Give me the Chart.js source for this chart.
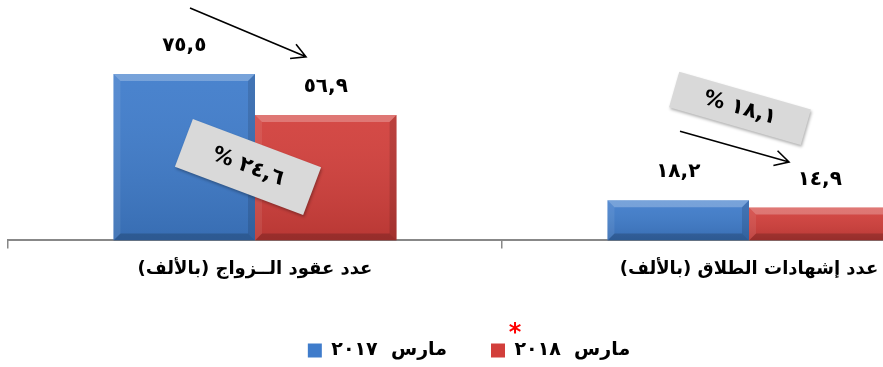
<!DOCTYPE html>
<html lang="ar">
<head>
<meta charset="utf-8">
<script src="https://cdn.jsdelivr.net/npm/chart.js@4.4.1/dist/chart.umd.min.js"></script>
<style>
    html, body { margin: 0; padding: 0; background: #fff; overflow: hidden; }
    #wrap { width: 996px; height: 367px; }
</style>
</head>
<body>
<div id="wrap"><canvas id="chart"></canvas></div>
<script>
const categories = ["عدد عقود الــزواج (بالألف)", "عدد إشهادات الطلاق (بالألف)"]
const seriesNames = ["مارس  ٢٠١٧", "مارس  ٢٠١٨"]
const march2017 = [75.5, 18.2]
const march2018 = [56.9, 14.9]
const changePct = [24.6, 18.1]

const FONT = "'DejaVu Sans', sans-serif"
const colors = {
    blue: "#3f7ccb",
    red: "#d23f3b",
}

// gray call-outs and arrows, placed from the category centre (px) and the value scale
const notes = [
    {box: {dx: -7, value: 33.3, w: 137, h: 51, angle: 20.6, font: 21}, arrow: {from: [-65, 105.4], to: [51, 83.3]}},
    {box: {dx: -9, value: 59.9, w: 137, h: 37, angle: 16, font: 21}, arrow: {from: [-69, 49.5], to: [40, 35.6]}},
]
const legendShift = {x: -33, y: 7}

function arDigits(v) {
    return v.toFixed(1).replace(".", ",").replace(/\d/g, d => "٠١٢٣٤٥٦٧٨٩"[d])
}

let bevelPlugin = {
    id: "bevel",
    afterDatasetsDraw(chart) {
        let ctx = chart.ctx
        chart.data.datasets.forEach((ds, i) => {
            chart.getDatasetMeta(i).data.forEach(bar => {
                let l = bar.x - bar.width / 2, r = bar.x + bar.width / 2
                let t = bar.y, b = bar.base
                let s = Math.min(7, (b - t) / 3)
                ctx.save()
                let g = ctx.createLinearGradient(0, t, 0, b)
                g.addColorStop(0, "rgba(255,255,255,0.06)")
                g.addColorStop(1, "rgba(0,0,0,0.12)")
                ctx.fillStyle = g
                ctx.fillRect(l, t, r - l, b - t)
                let poly = (pts, fill) => {
                    ctx.beginPath()
                    ctx.moveTo(pts[0][0], pts[0][1])
                    pts.slice(1).forEach(p => ctx.lineTo(p[0], p[1]))
                    ctx.closePath()
                    ctx.fillStyle = fill
                    ctx.fill()
                }
                poly([[l, t], [r, t], [r - s, t + s], [l + s, t + s]], "rgba(255,255,255,0.25)")
                poly([[l, t], [l + s, t + s], [l + s, b - s], [l, b]], "rgba(255,255,255,0.08)")
                poly([[r, t], [r - s, t + s], [r - s, b - s], [r, b]], "rgba(0,0,0,0.12)")
                poly([[l, b], [l + s, b - s], [r - s, b - s], [r, b]], "rgba(0,0,0,0.18)")
                ctx.restore()
            })
        })
    }
}

let notesPlugin = {
    id: "notes",
    afterDatasetsDraw(chart) {
        let ctx = chart.ctx
        let xs = chart.scales.x, ys = chart.scales.y
        notes.forEach((n, i) => {
            let cx = xs.getPixelForValue(i)
            // call-out box
            ctx.save()
            ctx.translate(cx + n.box.dx, ys.getPixelForValue(n.box.value))
            ctx.rotate(n.box.angle * Math.PI / 180)
            ctx.shadowColor = "rgba(0,0,0,0.3)"
            ctx.shadowBlur = 3
            ctx.shadowOffsetX = 1
            ctx.shadowOffsetY = 2
            ctx.fillStyle = "#d9d9d9"
            ctx.fillRect(-n.box.w / 2, -n.box.h / 2, n.box.w, n.box.h)
            ctx.shadowColor = "transparent"
            ctx.fillStyle = "#000"
            ctx.font = `bold ${n.box.font}px ${FONT}`
            ctx.textAlign = "center"
            ctx.textBaseline = "middle"
            ctx.fillText("% " + arDigits(changePct[i]), 0, 0)
            ctx.restore()
            // arrow
            let x1 = cx + n.arrow.from[0], y1 = ys.getPixelForValue(n.arrow.from[1])
            let x2 = cx + n.arrow.to[0], y2 = ys.getPixelForValue(n.arrow.to[1])
            let a = Math.atan2(y2 - y1, x2 - x1)
            ctx.save()
            ctx.strokeStyle = "#000"
            ctx.lineWidth = 1.6
            ctx.beginPath()
            ctx.moveTo(x1, y1)
            ctx.lineTo(x2, y2)
            ctx.moveTo(x2 - 16 * Math.cos(a - 0.5), y2 - 16 * Math.sin(a - 0.5))
            ctx.lineTo(x2, y2)
            ctx.lineTo(x2 - 16 * Math.cos(a + 0.5), y2 - 16 * Math.sin(a + 0.5))
            ctx.stroke()
            ctx.restore()
        })
    }
}

let valueLabelsPlugin = {
    id: "valueLabels",
    afterDatasetsDraw(chart) {
        let ctx = chart.ctx
        ctx.save()
        ctx.fillStyle = "#000"
        ctx.font = `bold 20px ${FONT}`
        ctx.textAlign = "center"
        ctx.textBaseline = "middle"
        chart.data.datasets.forEach((ds, i) => {
            chart.getDatasetMeta(i).data.forEach((bar, j) => {
                ctx.fillText(arDigits(ds.data[j]), bar.x, bar.y - 28)
            })
        })
        ctx.restore()
    }
}

let legendTweakPlugin = {
    id: "legendTweak",
    afterUpdate(chart) {
        let lg = chart.legend
        lg.left += legendShift.x
        lg.right += legendShift.x
        lg.top += legendShift.y
        lg.bottom += legendShift.y
        lg.legendHitBoxes.forEach(hb => {
            hb.left += legendShift.x
            hb.top += legendShift.y
        })
    },
    afterDraw(chart) {
        let hb = chart.legend.legendHitBoxes[1]
        if (!hb) return
        let ctx = chart.ctx
        ctx.save()
        ctx.fillStyle = "#ff0000"
        ctx.font = `bold 24px ${FONT}`
        ctx.textAlign = "center"
        ctx.textBaseline = "middle"
        ctx.fillText("*", hb.left + 24, hb.top - 7)
        ctx.restore()
    }
}

new Chart(document.getElementById("chart"), {
    type: "bar",
    data: {
        labels: categories,
        datasets: [
            {label: seriesNames[0], data: march2017, backgroundColor: colors.blue, borderWidth: 0},
            {label: seriesNames[1], data: march2018, backgroundColor: colors.red, borderWidth: 0},
        ]
    },
    options: {
        responsive: true,
        maintainAspectRatio: false,
        animation: false,
        devicePixelRatio: 1,
        categoryPercentage: 0.573,
        barPercentage: 1,
        layout: {padding: {left: 8, right: 0, top: 20, bottom: 4}},
        plugins: {
            tooltip: {enabled: false},
            legend: {
                position: "bottom",
                labels: {
                    color: "#000",
                    font: {family: FONT, size: 19, weight: "bold"},
                    boxWidth: 14,
                    boxHeight: 14,
                    padding: 44,
                }
            }
        },
        scales: {
            x: {
                grid: {display: true, drawOnChartArea: false, offset: true, color: "#888", lineWidth: 1.5, tickLength: 8},
                border: {display: true, color: "#888", width: 2},
                ticks: {color: "#000", padding: 10, font: {family: FONT, size: 18, weight: "bold"}},
            },
            y: {display: false, min: 0, max: 100}
        }
    },
    plugins: [bevelPlugin, notesPlugin, valueLabelsPlugin, legendTweakPlugin]
})
</script>
</body>
</html>
